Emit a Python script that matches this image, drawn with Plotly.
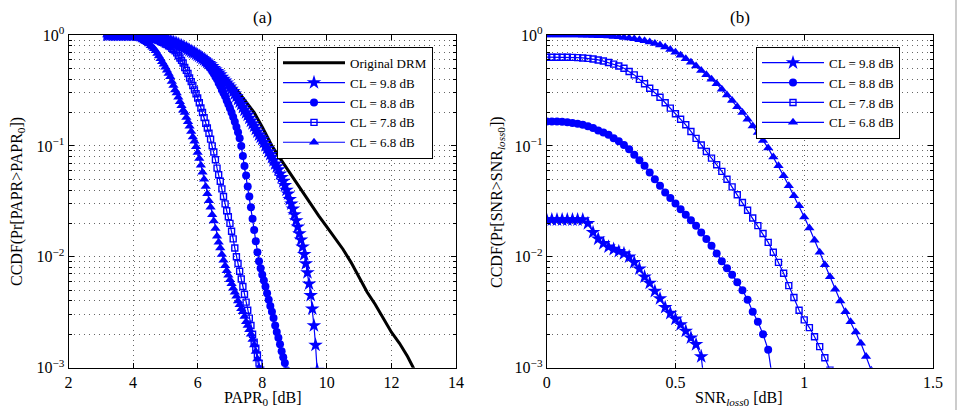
import plotly.graph_objects as go

# ---------------- data ----------------
# (a) CCDF of PAPR, x grid: start 3.2 dB, step 0.05 dB
papr_start = 3.2
papr_step = 0.05

cl98_a = [1, 1, 1, 1, 1, 1, 1, 1, 1, 1,
          1, 1, 1, 1, 1, 1, 1, 1, 1, 1,
          1, 0.995, 0.99, 0.99, 0.985, 0.98, 0.977, 0.972, 0.967, 0.962,
          0.957, 0.95, 0.943, 0.935, 0.927, 0.918, 0.91, 0.90, 0.89, 0.88,
          0.87, 0.86, 0.85, 0.84, 0.825, 0.81, 0.80, 0.785, 0.77, 0.76,
          0.745, 0.73, 0.715, 0.70, 0.69, 0.675, 0.66, 0.645, 0.63, 0.615,
          0.60, 0.585, 0.57, 0.555, 0.54, 0.52, 0.50, 0.485, 0.47, 0.455,
          0.44, 0.417, 0.40, 0.385, 0.37, 0.355, 0.34, 0.325, 0.31, 0.295,
          0.28, 0.263, 0.25, 0.237, 0.224, 0.211, 0.20, 0.19, 0.178, 0.168,
          0.159, 0.151, 0.142, 0.134, 0.126, 0.12, 0.115, 0.108, 0.101, 0.095,
          0.089, 0.084, 0.079, 0.074, 0.069, 0.065, 0.061, 0.056, 0.052, 0.048,
          0.044, 0.040, 0.037, 0.033, 0.030, 0.027, 0.024, 0.0212, 0.0186, 0.0162,
          0.0142, 0.0123, 0.0105, 0.0087, 0.0072, 0.0057, 0.0045, 0.0034, 0.0024, 0.0016,
          0.00095]

cl88_a = [1, 1, 1, 1, 1, 1, 1, 1, 1, 1,
          1, 1, 1, 1, 1, 1, 1, 1, 1, 1,
          1, 0.995, 0.99, 0.99, 0.985, 0.98, 0.977, 0.97, 0.965, 0.96,
          0.955, 0.95, 0.94, 0.93, 0.92, 0.91, 0.90, 0.895, 0.885, 0.875,
          0.865, 0.855, 0.845, 0.83, 0.815, 0.805, 0.794, 0.78, 0.765, 0.75,
          0.74, 0.725, 0.71, 0.695, 0.68, 0.665, 0.646, 0.63, 0.617, 0.60,
          0.582, 0.56, 0.543, 0.52, 0.50, 0.47, 0.447, 0.42, 0.398, 0.37,
          0.347, 0.32, 0.30, 0.28, 0.257, 0.237, 0.219, 0.20, 0.182, 0.165,
          0.148, 0.133, 0.117, 0.10, 0.081, 0.066, 0.054, 0.043, 0.035, 0.028,
          0.022, 0.0174, 0.0138, 0.011, 0.0091, 0.0079, 0.0069, 0.0061, 0.0054, 0.0047,
          0.0041, 0.0036, 0.0032, 0.0028, 0.0024, 0.0021, 0.00186, 0.00163, 0.00141, 0.00124,
          0.0011, 0.00095]

cl78_a = [1, 1, 1, 1, 1, 1, 1, 1, 1, 1,
          1, 1, 1, 1, 1, 1, 1, 0.995, 0.993, 0.99,
          0.988, 0.985, 0.98, 0.975, 0.97, 0.965, 0.955, 0.945, 0.935, 0.925,
          0.915, 0.90, 0.89, 0.875, 0.86, 0.85, 0.83, 0.82, 0.80, 0.785,
          0.76, 0.74, 0.72, 0.69, 0.65, 0.62, 0.59, 0.56, 0.51, 0.48,
          0.45, 0.41, 0.38, 0.35, 0.32, 0.295, 0.27, 0.245, 0.22, 0.20,
          0.18, 0.16, 0.145, 0.13, 0.115, 0.10, 0.088, 0.075, 0.063, 0.055,
          0.048, 0.041, 0.035, 0.030, 0.026, 0.023, 0.020, 0.017, 0.0145, 0.012,
          0.010, 0.0087, 0.0074, 0.0063, 0.0054, 0.0046, 0.0039, 0.0033, 0.0028, 0.0024,
          0.0020, 0.0017, 0.0015, 0.0013, 0.0011, 0.00095]

cl68_a = [1, 1, 1, 1, 1, 1, 1, 1, 1, 1,
          1, 1, 0.99, 0.99, 0.985, 0.98, 0.966, 0.96, 0.95, 0.94,
          0.933, 0.92, 0.90, 0.885, 0.87, 0.85, 0.83, 0.80, 0.776, 0.75,
          0.72, 0.68, 0.646, 0.61, 0.575, 0.545, 0.513, 0.48, 0.45, 0.42,
          0.38, 0.35, 0.32, 0.30, 0.275, 0.25, 0.23, 0.21, 0.20, 0.18,
          0.165, 0.15, 0.135, 0.12, 0.11, 0.098, 0.087, 0.077, 0.067, 0.058,
          0.050, 0.043, 0.037, 0.032, 0.028, 0.024, 0.021, 0.018, 0.0153, 0.0135,
          0.012, 0.0105, 0.0093, 0.0083, 0.0075, 0.0068, 0.0062, 0.0057, 0.0052, 0.0048,
          0.0044, 0.0040, 0.0037, 0.0034, 0.0032, 0.0029, 0.0026, 0.0024, 0.0022, 0.0020,
          0.0018, 0.0016, 0.0014, 0.0012, 0.0010]

orig_x = [3.2, 3.5, 4.0, 4.5, 5.0, 5.5, 6.0, 6.4, 6.75, 7.0,
          7.25, 7.5, 7.75, 8.0, 8.3, 8.5, 8.75, 9.0, 9.25, 9.5,
          9.75, 10.0, 10.25, 10.5, 10.75, 11.0, 11.25, 11.5, 11.75, 12.0,
          12.1, 12.25, 12.5, 12.68, 12.75]
orig_y = [1.0, 1.0, 0.989, 0.955, 0.891, 0.794, 0.676, 0.562, 0.447, 0.372,
          0.309, 0.251, 0.200, 0.148, 0.100, 0.0813, 0.0631, 0.0490, 0.0389, 0.0302,
          0.0234, 0.0186, 0.0148, 0.0117, 0.00891, 0.00646, 0.00479, 0.00372, 0.00275, 0.00209,
          0.00191, 0.00166, 0.00126, 0.00100, 0.00091]

# (b) CCDF of SNR loss, x grid: start 0 dB, step 0.02 dB
snr_start = 0.0
snr_step = 0.02

cl98_b = [0.0216, 0.0216, 0.0216, 0.0216, 0.0216, 0.0216, 0.0216, 0.0216, 0.020, 0.0166,
          0.0145, 0.0132, 0.0123, 0.0117, 0.0112, 0.0107, 0.0100, 0.0089, 0.0078, 0.0066,
          0.0058, 0.0049, 0.0042, 0.0035, 0.0031, 0.00275, 0.00245, 0.00214, 0.00186, 0.00162,
          0.00126, 0.0005]

cl88_b = [0.166, 0.166, 0.166, 0.165, 0.163, 0.161, 0.158, 0.155, 0.150, 0.145,
          0.138, 0.132, 0.126, 0.117, 0.110, 0.102, 0.0933, 0.0832, 0.0741, 0.0661,
          0.0575, 0.0501, 0.0437, 0.0380, 0.0339, 0.0302, 0.0269, 0.0240, 0.0214, 0.0191,
          0.0166, 0.0145, 0.0126, 0.0107, 0.0091, 0.0079, 0.0069, 0.0059, 0.0050, 0.0041,
          0.0032, 0.0026, 0.0020, 0.00145, 0.0007]

cl78_b = [0.631, 0.631, 0.631, 0.631, 0.630, 0.628, 0.625, 0.621, 0.615, 0.607,
          0.596, 0.582, 0.565, 0.546, 0.525, 0.501, 0.468, 0.437, 0.398, 0.363,
          0.331, 0.302, 0.275, 0.245, 0.219, 0.195, 0.174, 0.155, 0.135, 0.117,
          0.102, 0.0891, 0.0776, 0.0676, 0.0589, 0.0501, 0.0427, 0.0363, 0.0309, 0.0263,
          0.0224, 0.0191, 0.0162, 0.0135, 0.0110, 0.0089, 0.0071, 0.0055, 0.0043, 0.0033,
          0.0027, 0.0023, 0.0019, 0.00155, 0.00123, 0.00095]

cl68_b = [1, 1, 1, 1, 1, 1, 0.998, 0.995, 0.993, 0.991,
          0.986, 0.982, 0.977, 0.971, 0.962, 0.951, 0.938, 0.923, 0.906, 0.887,
          0.865, 0.839, 0.811, 0.778, 0.741, 0.700, 0.656, 0.612, 0.569, 0.525,
          0.479, 0.437, 0.398, 0.363, 0.324, 0.288, 0.257, 0.226, 0.200, 0.174,
          0.151, 0.132, 0.112, 0.0955, 0.0794, 0.0661, 0.0537, 0.0437, 0.0355, 0.0288,
          0.0229, 0.0182, 0.0141, 0.0110, 0.0085, 0.0066, 0.0051, 0.0040, 0.0032, 0.0026,
          0.0021, 0.00166, 0.00126, 0.00095]

legend_names = ["CL = 9.8 dB", "CL = 8.8 dB", "CL = 7.8 dB", "CL = 6.8 dB"]
y_tickvals = [1e-3, 1e-2, 1e-1, 1]
y_ticktext = ["10<sup>−3</sup>", "10<sup>−2</sup>", "10<sup>−1</sup>", "10<sup>0</sup>"]
y_minor = [m * 10.0 ** e for e in (-3, -2, -1) for m in range(2, 10)]


def grid_x(start, step, n):
    return [round(start + step * i, 4) for i in range(n)]


# ---------------- styling ----------------
BLUE = "#0000ff"
FONT = "Liberation Serif"
markers = [
    dict(symbol="star", size=11, color=BLUE),
    dict(symbol="circle", size=8, color=BLUE),
    dict(symbol="square-open", size=6, color=BLUE, line=dict(width=1.4, color=BLUE)),
    dict(symbol="triangle-up", size=9, color=BLUE),
]

fig = go.Figure()

# (a)
fig.add_trace(go.Scatter(x=orig_x, y=orig_y, mode="lines", name="Original DRM",
                         line=dict(color="black", width=3), xaxis="x", yaxis="y",
                         legend="legend"))
for name, ys, mk in zip(legend_names, [cl98_a, cl88_a, cl78_a, cl68_a], markers):
    fig.add_trace(go.Scatter(x=grid_x(papr_start, papr_step, len(ys)), y=ys,
                             mode="lines+markers", name=name,
                             line=dict(color=BLUE, width=1.2), marker=mk,
                             xaxis="x", yaxis="y", legend="legend"))
# (b)
for name, ys, mk in zip(legend_names, [cl98_b, cl88_b, cl78_b, cl68_b], markers):
    fig.add_trace(go.Scatter(x=grid_x(snr_start, snr_step, len(ys)), y=ys,
                             mode="lines+markers", name=name,
                             line=dict(color=BLUE, width=1.2), marker=mk,
                             xaxis="x2", yaxis="y2", legend="legend2"))

GRID = "rgba(0,0,0,0.6)"
DOT = "1px,4px"
ax_common = dict(showline=True, linecolor="black", linewidth=1, mirror="allticks",
                 ticks="inside", ticklen=5, tickcolor="black", tickwidth=1,
                 showgrid=True, gridcolor=GRID, griddash=DOT, gridwidth=1,
                 zeroline=False, automargin=False,
                 tickfont=dict(family=FONT, size=16, color="black"))
y_common = dict(ax_common, type="log", range=[-3, 0], tickvals=y_tickvals,
                ticktext=y_ticktext,
                minor=dict(tickvals=y_minor, ticks="inside", ticklen=3,
                           tickcolor="black", showgrid=True, gridcolor=GRID,
                           griddash=DOT, gridwidth=1))

W, H = 962, 410
xa = (68.5 / W, 456 / W)
xb = (546.7 / W, 933 / W)
yd = (1 - 367.7 / H, 1 - 35 / H)

leg_common = dict(xanchor="left", yanchor="top", bgcolor="white",
                  bordercolor="black", borderwidth=1, itemwidth=62,
                  font=dict(family=FONT, size=13, color="black"), tracegroupgap=0)

fig.update_layout(
    width=W, height=H, margin=dict(l=0, r=0, t=0, b=0, autoexpand=False),
    paper_bgcolor="white", plot_bgcolor="white",
    font=dict(family=FONT, color="black"),
    xaxis=dict(ax_common, domain=xa, range=[2, 14], tick0=2, dtick=2, anchor="y"),
    yaxis=dict(y_common, domain=yd, anchor="x"),
    xaxis2=dict(ax_common, domain=xb, range=[0, 1.5], tickvals=[0, 0.5, 1, 1.5],
                ticktext=["0", "0.5", "1", "1.5"], anchor="y2"),
    yaxis2=dict(y_common, domain=yd, anchor="x2"),
    legend=dict(leg_common, x=277 / W, y=1 - 46.7 / H),
    legend2=dict(leg_common, x=756 / W, y=1 - 46.7 / H),
    showlegend=True,
)

ann_font = dict(family=FONT, size=16, color="black")
common_ann = dict(xref="paper", yref="paper", showarrow=False)
fig.add_annotation(common_ann, text="(a)", x=262.5 / W, y=1 - 17 / H,
                   xanchor="center", yanchor="middle",
                   font=dict(family=FONT, size=17, color="black"))
fig.add_annotation(common_ann, text="(b)", x=740 / W, y=1 - 17 / H,
                   xanchor="center", yanchor="middle",
                   font=dict(family=FONT, size=17, color="black"))
fig.add_annotation(common_ann, text="PAPR<sub>0</sub> [dB]", x=262 / W, y=0,
                   xanchor="center", yanchor="bottom", font=ann_font)
fig.add_annotation(common_ann, text="SNR<sub><i>loss</i>0</sub> [dB]", x=738 / W, y=0,
                   xanchor="center", yanchor="bottom", font=ann_font)
fig.add_annotation(common_ann, text="CCDF(Pr[PAPR>PAPR<sub>0</sub>])", x=17 / W,
                   y=1 - 202 / H, xanchor="center", yanchor="middle", textangle=-90,
                   font=ann_font)
fig.add_annotation(common_ann, text="CCDF(Pr[SNR>SNR<sub><i>loss</i>0</sub>])",
                   x=497 / W, y=1 - 202 / H, xanchor="center", yanchor="middle",
                   textangle=-90, font=ann_font)

# thin frame line at the right edge of the picture
fig.add_shape(type="line", xref="paper", yref="paper", x0=956 / W, x1=956 / W,
              y0=0, y1=1, line=dict(color="#999999", width=1))

fig.write_html("out.html")
